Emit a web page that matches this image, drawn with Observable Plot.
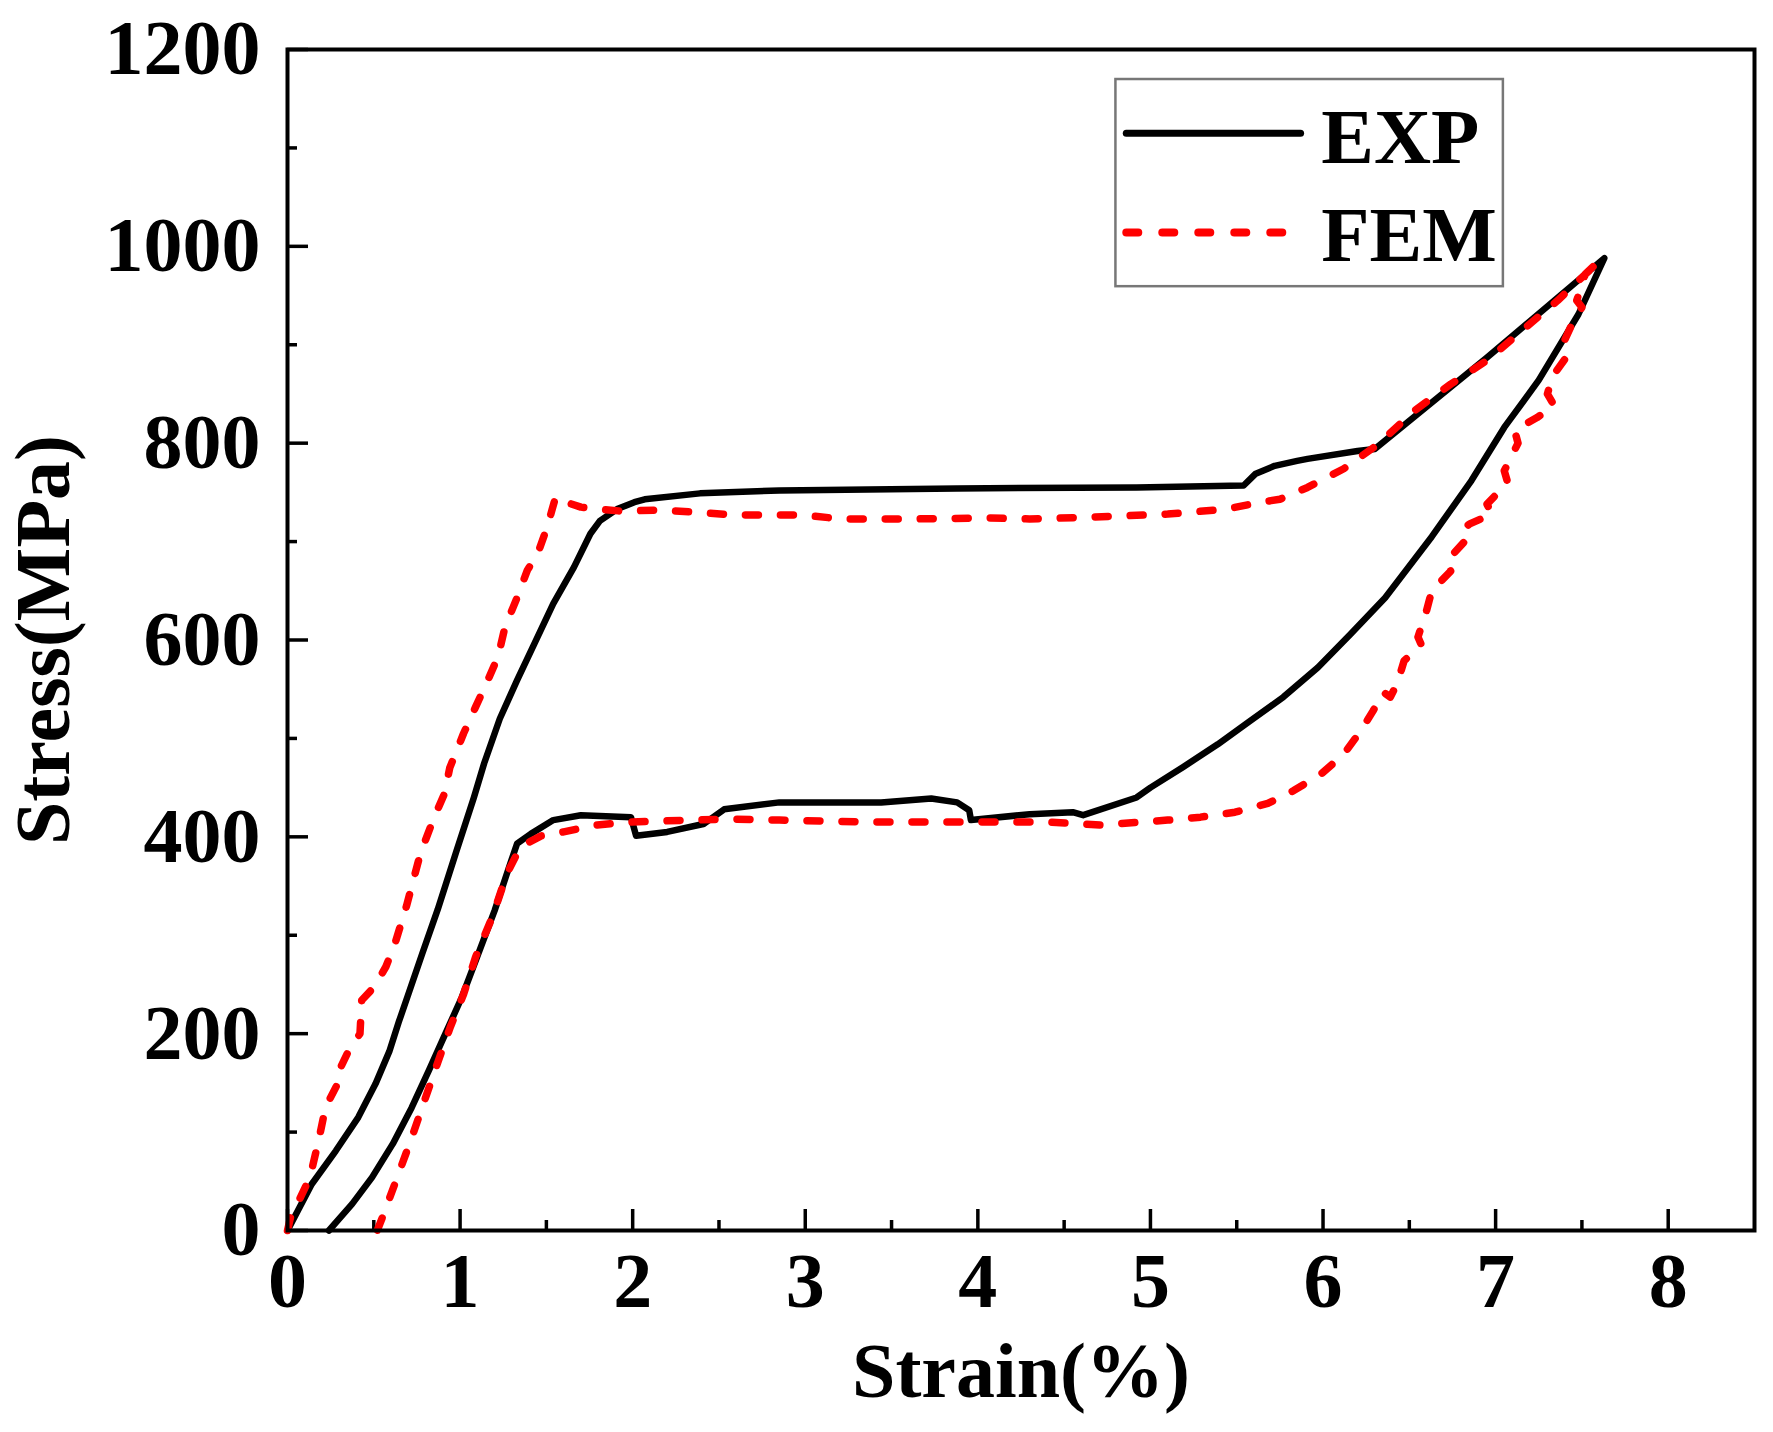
<!DOCTYPE html>
<html>
<head>
<meta charset="utf-8">
<script src="https://cdn.jsdelivr.net/npm/d3@7"></script>
<script src="https://cdn.jsdelivr.net/npm/@observablehq/plot@0.6"></script>
<style>
  html, body { margin: 0; padding: 0; background: white; }
</style>
</head>
<body>
<div id="chart"></div>
<script>
// EXP: loading then unloading (strain %, stress MPa)
const expStrain = [0, 0.14, 0.28, 0.41, 0.51, 0.59, 0.645, 0.70, 0.78, 0.87, 0.98, 1.08, 1.14, 1.23, 1.33, 1.43, 1.54, 1.66, 1.755, 1.81, 1.91, 2.01, 2.07, 2.39, 2.85, 3.88, 4.92, 5.54, 5.61, 5.72, 5.85, 5.91, 6.20, 6.30, 6.95, 7.63,
  7.48, 7.25, 7.05, 6.86, 6.63, 6.36, 6.16, 5.97, 5.77, 5.58, 5.39, 5.19, 5.00, 4.92, 4.61, 4.55, 4.30, 3.96, 3.95, 3.88, 3.73, 3.44, 2.85, 2.53, 2.41, 2.20, 2.02, 1.99, 1.70, 1.54, 1.41, 1.33, 1.27, 1.20, 1.09, 1.01, 0.915, 0.82, 0.72, 0.61, 0.49, 0.375, 0.24];
const expStress = [0, 47, 81, 115, 149, 182, 212, 240, 281, 326, 386, 440, 475, 520, 559, 596, 637, 674, 708, 721, 733, 740, 743, 749, 752, 754, 755, 757, 769, 777, 782, 784, 792, 794, 887, 988,
  931, 864, 816, 762, 705, 643, 606, 572, 542, 518, 494, 471, 450, 440, 422, 425, 423, 417, 427, 435, 439, 435, 435, 428, 413, 405, 401, 420, 422, 417, 403, 393, 362, 325, 274, 237, 200, 163, 125, 88, 54, 27, 0];

// FEM: loading then unloading (strain %, stress MPa)
const femStrain = [0, 0.017, 0.065, 0.13, 0.18, 0.22, 0.29, 0.30, 0.355, 0.42, 0.43, 0.50, 0.57, 0.62, 0.69, 0.77, 0.85, 0.91, 0.94, 1.02, 1.09, 1.16, 1.22, 1.26, 1.33, 1.39, 1.45, 1.505, 1.553, 1.58, 1.70, 1.81, 1.93, 2.15, 2.36, 2.59, 2.98, 3.21, 3.62, 4.06, 4.30, 4.68, 5.10, 5.44, 5.64, 5.75, 5.91, 6.12, 6.24, 6.32, 6.53, 6.74, 6.95, 7.15, 7.36, 7.54, 7.60,
  7.52, 7.47, 7.50, 7.44, 7.38, 7.40, 7.33, 7.30, 7.34, 7.24, 7.11, 7.13, 7.05, 7.07, 6.95, 6.98, 6.85, 6.80, 6.82, 6.72, 6.74, 6.63, 6.60, 6.55, 6.57, 6.47, 6.43, 6.39, 6.35, 6.29, 6.22, 6.12, 5.99, 5.83, 5.68, 5.49, 5.29, 5.10, 4.71, 4.40, 3.88, 3.37, 2.85, 2.57, 2.33, 1.99, 1.79, 1.60, 1.47, 1.35, 1.27, 1.19, 1.09, 1.02, 0.944, 0.867, 0.79, 0.713, 0.636, 0.549, 0.52];
const femStress = [0, 13, 30, 54, 91, 125, 149, 163, 183, 200, 234, 247, 268, 290, 330, 383, 420, 444, 470, 505, 532, 559, 583, 613, 643, 671, 688, 715, 745, 742, 735, 733, 731, 732, 730, 727, 727, 723, 723, 724, 723, 725, 728, 733, 740, 743, 755, 774, 789, 799, 833, 860, 884, 914, 945, 975, 985,
  972, 945, 938, 920, 897, 885, 868, 850, 838, 826, 813, 800, 772, 760, 738, 728, 718, 711, 700, 681, 670, 650, 630, 603, 595, 579, 556, 542, 547, 528, 508, 484, 464, 447, 434, 425, 420, 417, 412, 415, 415, 415, 417, 418, 417, 415, 412, 405, 401, 390, 362, 320, 278, 240, 207, 169, 130, 91, 54, 13, 0];

const xMajor = [0, 1, 2, 3, 4, 5, 6, 7, 8];
const xMinor = [0.5, 1.5, 2.5, 3.5, 4.5, 5.5, 6.5, 7.5];
const yMajor = [0, 200, 400, 600, 800, 1000, 1200];
const yMinor = [100, 300, 500, 700, 900, 1100];
const seriesNames = ["EXP", "FEM"];

const exp = expStrain.map((s, i) => ({strain: s, stress: expStress[i]}));
const fem = femStrain.map((s, i) => ({strain: s, stress: femStress[i]}));

const font = "Liberation Serif, Times New Roman, serif";
const pxX = 8.5 / (1773 - 287 - 19);   // strain per pixel
const pxY = 1200 / (1432 - 49 - 202);  // stress per pixel

const chart = Plot.plot({
  width: 1773,
  height: 1432,
  marginLeft: 287,
  marginRight: 19,
  marginTop: 49,
  marginBottom: 202,
  x: {domain: [0, 8.5]},
  y: {domain: [0, 1200]},
  style: {fontFamily: font, fontWeight: "bold", background: "white", color: "black"},
  marks: [
    // inward ticks
    Plot.ruleX(xMajor, {x: d => d, y1: 0, y2: 21 * pxY, stroke: "black", strokeWidth: 3.5}),
    Plot.ruleX(xMinor, {x: d => d, y1: 0, y2: 10 * pxY, stroke: "black", strokeWidth: 3.5}),
    Plot.ruleY(yMajor, {y: d => d, x1: 0, x2: 21 * pxX, stroke: "black", strokeWidth: 3.5}),
    Plot.ruleY(yMinor, {y: d => d, x1: 0, x2: 10 * pxX, stroke: "black", strokeWidth: 3.5}),
    Plot.axisX({ticks: xMajor, tickSize: 0, tickPadding: 21, tickFormat: d => String(d), fontSize: 78,
      label: "Strain(%)", labelAnchor: "center", labelOffset: 166, labelArrow: "none"}),
    Plot.axisY({ticks: yMajor, tickSize: 0, tickPadding: 27, tickFormat: d => String(d), fontSize: 78,
      label: "Stress(MPa)", labelAnchor: "center", labelOffset: 274, labelArrow: "none"}),
    // curves
    Plot.line(exp, {x: "strain", y: "stress", stroke: "black", strokeWidth: 6.5, strokeLinejoin: "round", strokeLinecap: "round"}),
    Plot.line(fem, {x: "strain", y: "stress", stroke: "#ff0000", strokeWidth: 7.5, strokeDasharray: "13,22", strokeLinecap: "round", strokeLinejoin: "round"}),
    // legend
    Plot.rect([0], {x1: 4.80, x2: 7.045, y1: 959, y2: 1169.5, fill: "white", stroke: "#777", strokeWidth: 2.5}),
    Plot.line([{x: 4.86, y: 1115}, {x: 5.87, y: 1115}], {x: "x", y: "y", stroke: "black", strokeWidth: 7, strokeLinecap: "round"}),
    Plot.line([{x: 4.86, y: 1014}, {x: 5.87, y: 1014}], {x: "x", y: "y", stroke: "#ff0000", strokeWidth: 8, strokeDasharray: "12,24", strokeLinecap: "round"}),
    Plot.text(seriesNames, {x: 5.99, y: (d, i) => [1085, 985.5][i], text: d => d, textAnchor: "start", lineAnchor: "bottom", fontSize: 79, fill: "black"}),
    Plot.frame({stroke: "black", strokeWidth: 4})
  ]
});
document.getElementById("chart").appendChild(chart);
</script>
</body>
</html>
